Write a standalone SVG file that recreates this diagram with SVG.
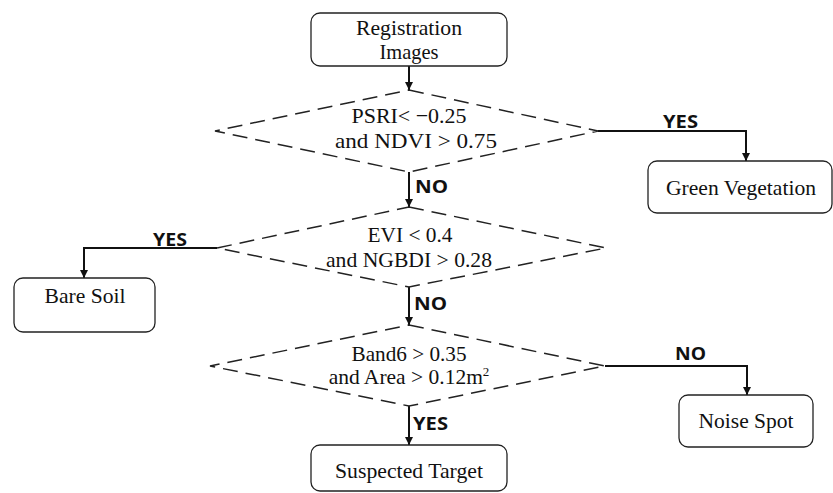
<svg xmlns="http://www.w3.org/2000/svg" width="833" height="493" viewBox="0 0 833 493">
<defs>
<style>
.box{fill:#fff;stroke:#222;stroke-width:1.3}
.dia{fill:none;stroke:#222;stroke-width:1.5;stroke-dasharray:15 8}
.t{font-family:"Liberation Serif","Times New Roman",serif;font-size:21.5px;fill:#111;text-anchor:middle}
.lbl{font-family:"Open Sans","Noto Sans",sans-serif;font-size:17px;font-weight:bold;fill:#111}
.c{fill:none;stroke:#111;stroke-width:2}
</style>
<marker id="ah" viewBox="0 0 10 10" refX="10" refY="5" markerWidth="4" markerHeight="4" orient="auto" markerUnits="strokeWidth">
<path d="M0,0 L10,5 L0,10 z" fill="#111"/>
</marker>
</defs>
<rect width="833" height="493" fill="#fff"/>
<g id="connectors">
<path class="c" d="M409,66 V90" marker-end="url(#ah)"/>
<path class="c" d="M409,172 V207" marker-end="url(#ah)"/>
<path class="c" d="M409,287 V325" marker-end="url(#ah)"/>
<path class="c" d="M409,406 V445" marker-end="url(#ah)"/>
<path class="c" d="M598,131 H746 V161" marker-end="url(#ah)"/>
<path class="c" d="M217,248 H84 V278" marker-end="url(#ah)"/>
<path class="c" d="M605,366 H747 V395" marker-end="url(#ah)"/>
<text class="lbl" x="415" y="193" textLength="33" lengthAdjust="spacingAndGlyphs">NO</text>
<text class="lbl" x="414" y="310" textLength="33" lengthAdjust="spacingAndGlyphs">NO</text>
<text class="lbl" x="413" y="430" textLength="35" lengthAdjust="spacingAndGlyphs">YES</text>
<text class="lbl" x="663" y="128" textLength="35" lengthAdjust="spacingAndGlyphs">YES</text>
<text class="lbl" x="153" y="246" textLength="34" lengthAdjust="spacingAndGlyphs">YES</text>
<text class="lbl" x="675" y="360" textLength="31" lengthAdjust="spacingAndGlyphs">NO</text>
</g>
<g id="start">
<rect class="box" x="311" y="13" width="196" height="53" rx="9"/>
<text class="t" x="409" y="35" textLength="106" lengthAdjust="spacingAndGlyphs">Registration</text>
<text class="t" x="409" y="59" textLength="59" lengthAdjust="spacingAndGlyphs">Images</text>
</g>
<g id="d1">
<polygon class="dia" points="409,90 598,131 409,172 215,131"/>
<text class="t" x="409" y="123" textLength="115" lengthAdjust="spacingAndGlyphs">PSRI&lt; −0.25</text>
<text class="t" x="416" y="148" textLength="162" lengthAdjust="spacingAndGlyphs">and NDVI &gt; 0.75</text>
</g>
<g id="green">
<rect class="box" x="648" y="161" width="184" height="52" rx="9"/>
<text class="t" x="741" y="195" textLength="150" lengthAdjust="spacingAndGlyphs">Green Vegetation</text>
</g>
<g id="d2">
<polygon class="dia" points="409,207 606,248 409,287 217,248"/>
<text class="t" x="410" y="242" textLength="85" lengthAdjust="spacingAndGlyphs">EVI &lt; 0.4</text>
<text class="t" x="409" y="267" textLength="166" lengthAdjust="spacingAndGlyphs">and NGBDI &gt; 0.28</text>
</g>
<g id="bare">
<rect class="box" x="14" y="278" width="141" height="54" rx="9"/>
<text class="t" x="85" y="303" textLength="81" lengthAdjust="spacingAndGlyphs">Bare Soil</text>
</g>
<g id="d3">
<polygon class="dia" points="409,325 605,366 409,406 210,366"/>
<text class="t" x="409" y="361" textLength="115" lengthAdjust="spacingAndGlyphs">Band6 &gt; 0.35</text>
<text class="t" x="409" y="384">and Area &gt; 0.12m<tspan font-size="13" dy="-8">2</tspan></text>
</g>
<g id="noise">
<rect class="box" x="679" y="395" width="134" height="52" rx="9"/>
<text class="t" x="746" y="428" textLength="95" lengthAdjust="spacingAndGlyphs">Noise Spot</text>
</g>
<g id="target">
<rect class="box" x="311" y="445" width="196" height="46" rx="9"/>
<text class="t" x="409" y="478" textLength="148" lengthAdjust="spacingAndGlyphs">Suspected Target</text>
</g>
</svg>
